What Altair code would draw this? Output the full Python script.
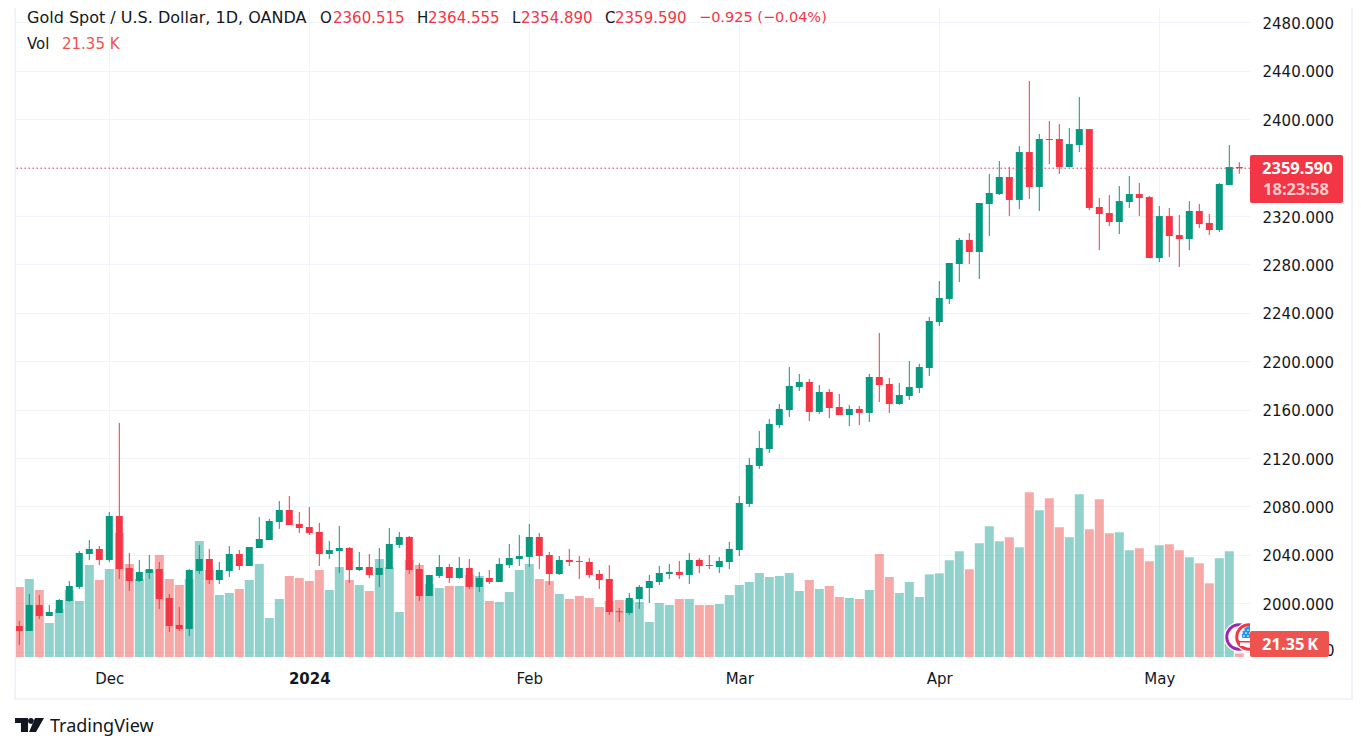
import altair as alt
import pandas as pd

open_ = [1981.2,1977.1,1998.6,1989.5,1992.0,2001.9,2013.5,2040.7,2044.9,2035.8,2072.1,2029.2,2018.4,2025.0,2028.3,2004.4,1982.1,1978.8,2026.7,2036.6,2019.2,2026.7,2040.7,2030.8,2045.7,2052.3,2067.2,2077.1,2065.5,2063.0,2058.9,2040.7,2043.2,2045.7,2027.5,2030.0,2023.4,2028.3,2048.2,2054.8,2028.3,2006.0,2022.6,2030.0,2020.9,2029.2,2013.5,2020.9,2017.6,2031.6,2036.6,2038.3,2054.8,2039.9,2024.2,2035.8,2035.0,2034.1,2024.2,2020.1,1993.4,1992.0,2003.5,2012.6,2017.6,2024.2,2025.9,2023.4,2035.8,2031.6,2030.0,2034.1,2044.0,2082.1,2113.5,2127.5,2147.3,2159.7,2178.7,2182.9,2158.1,2174.6,2162.2,2155.6,2160.6,2157.3,2187.0,2181.2,2164.7,2171.3,2177.9,2194.4,2232.4,2251.5,2280.4,2300.2,2290.3,2330.0,2338.2,2352.3,2333.3,2372.9,2344.0,2383.7,2383.7,2360.5,2378.7,2391.9,2327.5,2322.5,2315.1,2331.6,2338.2,2335.7,2285.3,2320.0,2304.3,2301.0,2324.2,2314.3,2308.5,2345.7,2360.515]
high = [1985.4,2007.7,2006.9,1998.6,2003.5,2018.4,2043.2,2052.3,2047.3,2075.4,2149.0,2041.6,2035.8,2039.9,2034.1,2007.7,1996.9,2028.3,2048.2,2044.9,2034.1,2047.3,2044.0,2046.5,2071.3,2069.7,2084.5,2088.7,2075.4,2079.6,2066.4,2051.5,2063.9,2046.5,2042.4,2040.7,2045.7,2062.2,2058.9,2055.6,2033.3,2023.4,2039.9,2032.5,2038.3,2036.6,2025.9,2027.5,2037.4,2049.0,2056.4,2065.5,2058.1,2042.4,2039.1,2044.9,2039.1,2037.4,2027.5,2031.6,1996.1,2008.5,2015.1,2023.4,2030.8,2032.5,2035.0,2041.6,2037.4,2039.9,2038.3,2050.7,2088.7,2120.1,2142.4,2152.3,2164.7,2195.3,2189.5,2185.4,2180.4,2177.1,2173.0,2163.9,2163.0,2189.5,2223.4,2186.2,2182.0,2200.2,2197.8,2236.6,2266.3,2281.2,2301.9,2306.0,2330.8,2354.8,2365.5,2360.5,2377.9,2431.6,2387.8,2398.6,2396.1,2392.8,2418.4,2391.9,2334.9,2337.4,2344.8,2353.1,2347.3,2336.6,2328.3,2326.7,2320.9,2332.4,2330.0,2321.7,2347.3,2378.7,2364.555]
low = [1965.5,1977.1,1987.0,1989.5,1992.0,2001.1,2011.8,2035.8,2031.6,2034.1,2020.1,2010.2,2017.6,2020.1,1995.3,1976.3,1977.1,1973.0,2024.2,2015.9,2015.9,2021.7,2027.5,2030.8,2045.7,2052.3,2061.4,2064.7,2058.1,2056.4,2030.8,2036.6,2025.0,2016.8,2026.7,2020.9,2013.5,2028.3,2045.7,2024.2,2001.9,2006.0,2020.9,2016.8,2020.1,2011.8,2009.3,2015.9,2017.6,2029.2,2030.8,2030.0,2028.3,2015.1,2023.4,2030.8,2020.1,2020.9,2011.8,1990.3,1984.5,1990.3,1995.3,2000.2,2015.1,2020.1,2020.1,2015.9,2025.0,2028.3,2025.0,2028.3,2039.1,2079.6,2111.0,2124.2,2144.9,2154.0,2175.4,2150.6,2156.4,2153.1,2155.6,2146.5,2147.3,2149.8,2166.3,2157.3,2163.9,2168.0,2173.8,2187.8,2229.1,2247.3,2265.5,2280.4,2268.0,2303.5,2337.4,2320.0,2325.8,2334.1,2324.2,2363.0,2354.8,2360.5,2372.9,2325.0,2291.9,2311.8,2305.2,2326.7,2320.0,2285.3,2282.0,2286.2,2277.9,2291.9,2310.1,2304.3,2306.8,2345.7,2354.89]
close = [1977.1,1998.6,1989.5,1992.8,2002.7,2014.3,2041.6,2044.9,2035.8,2072.1,2028.3,2018.4,2025.9,2028.3,2003.5,1981.2,1978.8,2027.5,2036.6,2019.2,2027.5,2040.7,2030.8,2046.5,2053.1,2068.0,2077.1,2064.7,2062.2,2058.1,2040.7,2044.0,2045.7,2027.5,2030.0,2023.4,2029.2,2049.0,2054.8,2027.5,2006.0,2023.4,2030.0,2020.9,2029.2,2013.5,2020.9,2017.6,2032.5,2037.4,2039.1,2054.8,2039.1,2024.2,2035.8,2034.1,2034.2,2023.4,2019.2,1992.8,1992.6,2004.4,2013.5,2018.4,2025.0,2025.9,2023.4,2035.8,2030.8,2030.8,2035.0,2044.9,2082.9,2114.3,2128.3,2148.2,2160.6,2179.6,2182.9,2158.1,2174.6,2161.4,2155.6,2160.6,2157.3,2187.0,2180.4,2164.7,2172.1,2178.7,2195.3,2233.3,2252.3,2281.2,2300.2,2290.3,2330.8,2339.1,2352.3,2333.3,2372.9,2344.0,2383.7,2382.9,2360.5,2379.5,2391.9,2326.7,2321.7,2315.1,2332.4,2338.2,2334.9,2285.3,2320.0,2303.5,2301.0,2324.2,2313.4,2308.5,2346.5,2360.5,2359.59]
volume = [420,468,402,204,288,402,336,552,462,528,744,558,468,522,612,468,432,468,696,522,372,384,408,462,558,234,348,486,474,456,522,402,540,462,432,396,588,540,270,582,552,438,414,426,426,492,486,336,330,390,522,558,468,456,378,348,366,354,300,336,342,342,330,210,324,312,348,348,312,312,318,372,432,450,504,480,486,504,396,462,408,426,360,354,348,402,618,480,384,450,360,496,502,580,634,526,682,784,694,718,658,988,880,952,778,718,976,766,946,742,748,640,652,574,670,676,640,598,562,442,592,634,21.35]

price_ticks = [1960,2000,2040,2080,2120,2160,2200,2240,2280,2320,2360,2400,2440,2480]
hidden_price_labels = [1960,2360]   # these sit under the last-price and volume tags
time_ticks = [9,29,51,72,92,114]
time_labels = ["Dec","2024","Feb","Mar","Apr","May"]
last_price = 2359.59

FONT = "DejaVu Sans"
INK = "#131722"
UP, DOWN = "#089981", "#F23645"
VUP, VDOWN = "#26A69A", "#EF5350"
GRID = "#F0F3FA"
PAD_L, PAD_T = 15, 8   # image position of the plot origin

df = pd.DataFrame({"i": range(len(open_)), "o": open_, "h": high, "l": low, "c": close, "v": volume})
df["dir"] = ["up" if c >= o else "down" for o, c in zip(open_, close)]

x_scale = alt.Scale(domain=[-0.43, 123.07], nice=False, zero=False, padding=0)
y_scale = alt.Scale(domain=[1955.6, 2491.95], nice=False, zero=False)
v_scale = alt.Scale(domain=[0, 3894], nice=False)
candle_color = alt.Color("dir:N", scale=alt.Scale(domain=["up", "down"], range=[UP, DOWN]), legend=None)
vol_color = alt.Color("dir:N", scale=alt.Scale(domain=["up", "down"], range=[VUP, VDOWN]), legend=None)
label_expr = "{" + ",".join(f"'{t}':'{l}'" for t, l in zip(time_ticks, time_labels)) + "}[datum.value]"
price_expr = "indexof(" + str(hidden_price_labels) + ", datum.value) >= 0 ? '' : format(datum.value, '.3f')"

x_axis = alt.Axis(values=time_ticks, labelExpr=label_expr, title=None, domain=False, ticks=False,
                  grid=True, gridColor=GRID, gridWidth=1, labelFont=FONT, labelFontSize=15, labelColor=INK,
                  labelPadding=14, labelFlush=False, labelOverlap=False,
                  labelFontWeight={"condition": {"test": "datum.value == 29", "value": "bold"}, "value": "normal"})
y_axis = alt.Axis(values=price_ticks, labelExpr=price_expr, orient="right", title=None, domain=False, ticks=False,
                  grid=True, gridColor=GRID, gridWidth=1, labelFont=FONT, labelFontSize=15, labelColor=INK,
                  labelPadding=12, labelFlush=False, labelOverlap=False, labelAlign="left", labelOffset=1)

x_enc = alt.X("i:Q", scale=x_scale, axis=x_axis)

base = alt.Chart(df)
vol = base.mark_bar(size=9, opacity=0.5, orient="vertical").encode(
    x=x_enc, y=alt.Y("v:Q", scale=v_scale, axis=None), color=vol_color)
wick = base.mark_rule(strokeWidth=1).encode(
    x=x_enc, y=alt.Y("l:Q", scale=y_scale, axis=y_axis), y2="h:Q", color=candle_color)
body = base.mark_bar(size=7, orient="vertical").encode(
    x=x_enc, y=alt.Y("o:Q", scale=y_scale, axis=None), y2="c:Q", color=candle_color)
pline = alt.Chart(pd.DataFrame({"p": [last_price]})).mark_rule(color=DOWN, strokeWidth=1, strokeDash=[1.5, 2.5]).encode(
    y=alt.Y("p:Q", scale=y_scale, axis=None))

one = alt.Data(values=[{"a": 1}])

def box(x0, x1, y0, y1, color, radius=0):
    return alt.Chart(one).mark_rect(color=color, cornerRadius=radius).encode(
        x=alt.value(x0 - PAD_L), x2=alt.value(x1 - PAD_L), y=alt.value(y0 - PAD_T), y2=alt.value(y1 - PAD_T))

def txt(s, x, y, color=INK, size=15, weight="normal", font=FONT):
    return alt.Chart(one).mark_text(align="left", baseline="middle", font=font, fontSize=size,
                                    fontWeight=weight, color=color).encode(
        x=alt.value(x - PAD_L), y=alt.value(y - PAD_T), text=alt.value(s))

def dot(x, y, size, fill, stroke=None, sw=0):
    kw = {"stroke": stroke, "strokeWidth": sw} if stroke else {"strokeWidth": 0}
    return alt.Chart(one).mark_point(shape="circle", filled=True, size=size, fill=fill, opacity=1, **kw).encode(
        x=alt.value(x - PAD_L), y=alt.value(y - PAD_T))

layers = [vol, wick, body, pline]

# frame
layers += [box(14, 16, 8, 700, GRID), box(1351, 1353, 8, 700, GRID), box(14, 1353, 698, 700, GRID)]

# event badges
layers += [dot(1239, 637, 900, "#FFFFFF"),
           dot(1239, 637, 600, "#FFFFFF", "#9C27B0", 3),
           dot(1249, 637, 900, "#FFFFFF"),
           dot(1249, 637, 600, "#FFFFFF", "#F23645", 3),
           dot(1251, 635, 340, "#2196F3"),
           box(1240, 1252, 638, 646, "#FFFFFF"),
           box(1239, 1252, 641, 642.5, "#F23645")]
layers += [dot(x, y, 3, "#FFFFFF") for x, y in
           [(1244, 630), (1248, 630), (1246, 633), (1242, 633), (1244, 636), (1248, 636), (1250, 633)]]
layers += [box(1250, 1262, 618, 660, "#FFFFFF")]

# last glyph of the 1960 tick, peeking out from behind the volume tag
layers += [txt("0", 1325, 651)]

# price labels
layers += [box(1250, 1343, 155, 203, DOWN, 2), box(1250, 1329, 631, 657, VDOWN, 2)]
layers += [txt("2359.590", 1262, 169, "#FFFFFF", 16.5, "bold", "Noto Sans"),
           txt("18:23:58", 1263, 190, "#FCCBCF", 16.5, "bold", "Noto Sans"),
           txt("21.35\u2009K", 1262, 645, "#FFFFFF", 16.5, "bold", "Noto Sans")]

# legend
legend_items = [("Gold Spot / U.S. Dollar, 1D, OANDA", 27, 18, INK, 16), ("O", 320, 18, INK, 15), ("2360.515", 333, 18, DOWN, 15),
                ("H", 417, 18, INK, 15), ("2364.555", 428, 18, DOWN, 15), ("L", 512, 18, INK, 15), ("2354.890", 521, 18, DOWN, 15),
                ("C", 605, 18, INK, 15), ("2359.590", 615, 18, DOWN, 15), ("\u22120.925 (\u22120.04%)", 699, 18, DOWN, 14.5),
                ("Vol", 27, 44, INK, 15), ("21.35 K", 62, 44, VDOWN, 15)]
layers += [txt(s, x, y, c, z) for s, x, y, c, z in legend_items]

# TradingView logo
logo_path = ("M-1,-0.48 L-0.1,-0.48 L-0.1,0.48 L-0.59,0.48 L-0.59,-0.14 L-1,-0.14 Z "
             "M-0.1,-0.28 a0.2,0.2 0 1 0 0.4,0 a0.2,0.2 0 1 0 -0.4,0 Z "
             "M0.38,-0.48 L1,-0.48 L0.45,0.48 L-0.03,0.48 Z")
layers += [alt.Chart(one).mark_point(shape=logo_path, filled=True, fill=INK, size=841, opacity=1, strokeWidth=0).encode(
               x=alt.value(29.5 - PAD_L), y=alt.value(725 - PAD_T)),
           txt("TradingView", 50, 727, INK, 18, font="Noto Sans")]

chart = (alt.layer(*layers)
         .resolve_scale(y="independent", color="independent")
         .properties(width=1235, height=649, background="#FFFFFF",
                     padding={"left": 7, "top": 0, "right": 103, "bottom": 86},
                     autosize=alt.AutoSizeParams(type="none"))
         .configure_view(strokeWidth=0))

chart.save("out.html", embed_options={"renderer": "svg", "actions": False})
